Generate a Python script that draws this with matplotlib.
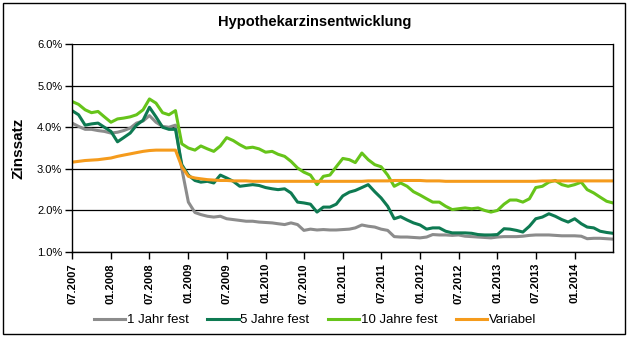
import pandas as pd
import matplotlib
matplotlib.use("Agg")
import matplotlib.pyplot as plt
import matplotlib.dates as mdates
from matplotlib.patches import Rectangle

plt.rcParams['font.family'] = ['Liberation Sans', 'DejaVu Sans']

# monthly values from 07.2007 to 07.2014, in percent
dates = pd.date_range('2007-07-01', periods=85, freq='MS')

jahr1 = [4.10, 4.02, 3.95, 3.95, 3.92, 3.90, 3.86, 3.88, 3.92, 3.98,
         4.10, 4.15, 4.28, 4.12, 4.02, 4.00, 4.05, 3.00, 2.20, 1.95,
         1.90, 1.86, 1.84, 1.86, 1.80, 1.78, 1.76, 1.74, 1.74, 1.72,
         1.71, 1.70, 1.68, 1.66, 1.70, 1.66, 1.52, 1.55, 1.53, 1.54,
         1.53, 1.53, 1.54, 1.55, 1.58, 1.65, 1.62, 1.60, 1.55, 1.52,
         1.37, 1.36, 1.36, 1.35, 1.34, 1.36, 1.42, 1.41, 1.41, 1.40,
         1.41, 1.38, 1.37, 1.36, 1.35, 1.34, 1.36, 1.37, 1.37, 1.37,
         1.38, 1.40, 1.41, 1.41, 1.41, 1.40, 1.39, 1.39, 1.39, 1.38,
         1.32, 1.33, 1.33, 1.32, 1.31]

jahre5 = [4.40, 4.30, 4.05, 4.08, 4.10, 4.00, 3.90, 3.65, 3.75, 3.86,
          4.05, 4.17, 4.48, 4.25, 4.00, 3.95, 3.95, 3.10, 2.85, 2.72,
          2.68, 2.70, 2.66, 2.85, 2.78, 2.70, 2.58, 2.60, 2.62, 2.60,
          2.55, 2.52, 2.50, 2.52, 2.42, 2.20, 2.18, 2.15, 1.96, 2.08,
          2.08, 2.15, 2.35, 2.44, 2.48, 2.55, 2.62, 2.45, 2.30, 2.10,
          1.80, 1.85, 1.77, 1.70, 1.65, 1.55, 1.58, 1.58, 1.50, 1.46,
          1.46, 1.46, 1.45, 1.42, 1.41, 1.41, 1.42, 1.56, 1.55, 1.52,
          1.48, 1.62, 1.80, 1.84, 1.92, 1.86, 1.78, 1.72, 1.80, 1.68,
          1.60, 1.58, 1.50, 1.47, 1.45]

jahre10 = [4.62, 4.55, 4.42, 4.35, 4.38, 4.25, 4.12, 4.20, 4.22, 4.25,
           4.30, 4.42, 4.68, 4.58, 4.35, 4.30, 4.40, 3.60, 3.50, 3.45,
           3.55, 3.48, 3.42, 3.55, 3.75, 3.68, 3.58, 3.50, 3.52, 3.48,
           3.40, 3.42, 3.35, 3.30, 3.18, 3.02, 2.92, 2.85, 2.62, 2.82,
           2.85, 3.05, 3.25, 3.22, 3.15, 3.38, 3.22, 3.10, 3.05, 2.85,
           2.58, 2.66, 2.58, 2.45, 2.37, 2.28, 2.20, 2.20, 2.10, 2.02,
           2.04, 2.06, 2.04, 2.06, 2.00, 1.96, 2.00, 2.15, 2.25, 2.25,
           2.20, 2.28, 2.55, 2.58, 2.68, 2.72, 2.62, 2.58, 2.62, 2.68,
           2.50, 2.42, 2.32, 2.22, 2.18]

variabel = [3.16, 3.18, 3.20, 3.21, 3.22, 3.24, 3.26, 3.30, 3.33, 3.36,
            3.39, 3.42, 3.44, 3.45, 3.45, 3.45, 3.45, 3.05, 2.82, 2.78,
            2.76, 2.74, 2.73, 2.72, 2.72, 2.71, 2.71, 2.71, 2.70, 2.70,
            2.70, 2.70, 2.70, 2.70, 2.70, 2.70, 2.70, 2.70, 2.70, 2.70,
            2.70, 2.70, 2.70, 2.70, 2.70, 2.70, 2.71, 2.71, 2.71, 2.71,
            2.72, 2.72, 2.72, 2.72, 2.72, 2.71, 2.71, 2.71, 2.70, 2.70,
            2.70, 2.70, 2.70, 2.70, 2.70, 2.70, 2.70, 2.70, 2.70, 2.70,
            2.70, 2.70, 2.70, 2.71, 2.71, 2.71, 2.71, 2.71, 2.71, 2.71,
            2.71, 2.71, 2.71, 2.71, 2.71]

labels = ['1 Jahr fest', '5 Jahre fest', '10 Jahre fest', 'Variabel']
colors = ['#8c8c8c', '#0e7a52', '#66c41a', '#f59b1c']
tick_dates = pd.date_range('2007-07-01', '2014-01-01', freq='6MS')

fig = plt.figure(figsize=(6.3, 3.39), dpi=100)
ax = fig.add_axes([0.1143, 0.2566, 0.8587, 0.6134])

for vals, lab, col in zip([jahr1, jahre5, jahre10, variabel], labels, colors):
    ax.plot(dates, vals, color=col, lw=2.2, label=lab)

ax.set_xlim(dates[0], dates[-1])
ax.set_ylim(1.0, 6.0)
ax.set_yticks([1, 2, 3, 4, 5, 6])
ax.yaxis.set_major_formatter(plt.FuncFormatter(lambda v, p: f'{v:.1f}%'))
ax.set_xticks(tick_dates)
ax.xaxis.set_major_formatter(mdates.DateFormatter('%m.%Y'))
ax.tick_params(axis='x', rotation=90, labelsize=8, length=5, width=1, pad=3)
ax.tick_params(axis='y', labelsize=8, length=5, width=1, pad=2)
for t in ax.get_xticklabels():
    t.set_fontweight('bold')
ax.grid(axis='y', color='black', lw=0.9)
ax.set_axisbelow(True)
for s in ax.spines.values():
    s.set_color('black')
    s.set_linewidth(1)
ax.spines['top'].set_visible(False)

ax.set_ylabel('Zinssatz', fontsize=11, fontweight='bold', labelpad=8)
fig.text(0.5, 0.935, 'Hypothekarzinsentwicklung', ha='center', va='center',
         fontsize=10.5, fontweight='bold')

fig.legend(loc='center', bbox_to_anchor=(0.5, 0.056), ncol=4, frameon=False,
           fontsize=9.5, handlelength=2.4, handletextpad=0.1, columnspacing=1.4)

fig.patches.append(Rectangle((3 / 630, 5 / 339), 622 / 630, 331 / 339,
                             transform=fig.transFigure, fill=False,
                             edgecolor='black', lw=1))

fig.savefig('out.png', dpi=100)
